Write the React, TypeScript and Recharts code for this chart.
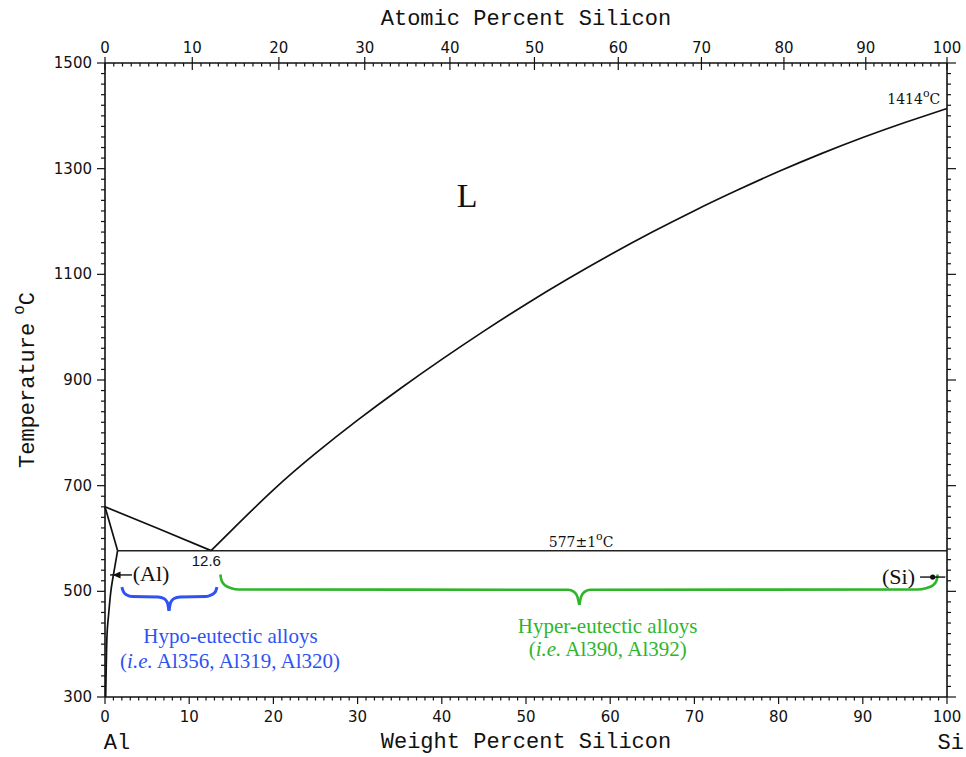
import React from "react";
import { LineChart, Line, XAxis, YAxis, Label, ReferenceDot, ReferenceLine } from "recharts";

const INK = "#111";
const BLUE = "#2f52f2";
const GREEN = "#2fb52a";

// axis ticks
const WT_MAJOR = [0, 10, 20, 30, 40, 50, 60, 70, 80, 90, 100];
const AT_MAJOR = [0, 10, 20, 30, 40, 50, 60, 70, 80, 90, 100];
const T_MAJOR = [300, 500, 700, 900, 1100, 1300, 1500];

// Al side (wt% Si, °C)
const AL_LIQ_WT = [0, 6.3, 12.6];
const AL_LIQ_T = [660, 619, 577];
const AL_SOLIDUS_WT = [0, 1.5];
const AL_SOLIDUS_T = [660, 577];
const AL_SOLVUS_WT = [1.5, 1.15, 0.71, 0.45, 0.27, 0.16, 0.08];
const AL_SOLVUS_T = [577, 545, 502, 460, 427, 370, 300];

// eutectic isotherm
const EUT_WT = [1.5, 100];
const EUT_T = [577, 577];

// Si liquidus
const SI_LIQ_WT = [12.6, 15, 20, 25, 30, 35, 40, 45, 50, 55, 60, 65, 70, 75, 80, 85, 90, 95, 100];
const SI_LIQ_T = [577, 615, 692, 761, 824, 883, 939, 992.5, 1043.5, 1091.5, 1137, 1180, 1220.5, 1258.5, 1294.5, 1328, 1359, 1387.5, 1414];

// braces
const HYPO_L_WT = [2.0, 2.2, 2.6, 3.2, 6.3, 7.0, 7.4, 7.6];
const HYPO_L_T = [508, 499, 493, 490, 489.5, 486.5, 479, 463];
const HYPO_R_WT = [7.6, 7.8, 8.2, 8.9, 12.0, 12.6, 13.1, 13.3];
const HYPO_R_T = [463, 479, 486.5, 489.5, 490, 493, 499, 508];
const HYPER_L_WT = [13.7, 13.85, 14.3, 15.0, 15.9, 55.0, 55.7, 56.1, 56.33];
const HYPER_L_T = [532, 520, 511, 506, 503.5, 503, 499, 490, 474];
const HYPER_R_WT = [56.33, 56.55, 56.95, 57.65, 96.5, 97.5, 98.3, 98.75, 98.9];
const HYPER_R_T = [474, 490, 499, 503, 503.5, 506, 511, 520, 532];

const pts = (xs: number[], ys: number[]) => xs.map((x, i) => ({ x, y: ys[i] }));

// atomic % Si -> weight % Si (Al 26.982, Si 28.086)
const atToWt = (a: number) => (100 * a * 28.086) / (a * 28.086 + (100 - a) * 26.982);

const WT_TICKS: number[] = [];
for (let i = 0; i <= 100; i++) WT_TICKS.push(i);
const AT_TICKS: number[] = [];
for (let i = 0; i <= 100; i++) AT_TICKS.push(atToWt(i));
const T_TICKS: number[] = [];
for (let t = 300; t <= 1500; t += 20) T_TICKS.push(t);

const tickFont = { fontFamily: "'DejaVu Sans', sans-serif", fontSize: 15, fill: INK };
const monoFont = { fontFamily: "'Liberation Mono', monospace", fontSize: 22, fill: INK };
const serifNote = { fontFamily: "'DejaVu Serif', serif", fontSize: 14, fill: INK };
const timesFont = { fontFamily: "'Liberation Serif', serif", fontSize: 21 };

function BottomTick(props: any) {
  const { x, y, payload } = props;
  const v = payload.value;
  const major = WT_MAJOR.includes(v);
  return (
    <g>
      <line x1={x} x2={x} y1={y} y2={y + (major ? 7 : 3.5)} stroke={INK} strokeWidth={1.2} />
      {major && (
        <text x={x} y={y + 25} textAnchor="middle" {...tickFont}>
          {v}
        </text>
      )}
    </g>
  );
}

function TopTick(props: any) {
  const { x, y, index } = props;
  const major = AT_MAJOR.includes(index);
  return (
    <g>
      <line x1={x} x2={x} y1={major ? y - 6 : y} y2={y + (major ? 7 : 3.5)} stroke={INK} strokeWidth={1.2} />
      {major && (
        <text x={x} y={y - 10} textAnchor="middle" {...tickFont}>
          {index}
        </text>
      )}
    </g>
  );
}

function LeftTick(props: any) {
  const { x, y, payload } = props;
  const v = payload.value;
  const major = T_MAJOR.includes(v);
  return (
    <g>
      <line x1={x - (major ? 8 : 4)} x2={x} y1={y} y2={y} stroke={INK} strokeWidth={1.2} />
      {major && (
        <text x={x - 13} y={y + 5} textAnchor="end" {...tickFont}>
          {v}
        </text>
      )}
    </g>
  );
}

function RightTick(props: any) {
  const { x, y, payload } = props;
  const major = T_MAJOR.includes(payload.value);
  return <line x1={x} x2={x + (major ? 9 : 4)} y1={y} y2={y} stroke={INK} strokeWidth={1.2} />;
}

function BottomTitle(props: any) {
  const vb = props.viewBox;
  const cx = vb.x + vb.width / 2;
  return (
    <g>
      <text x={cx} y={vb.y + 51} textAnchor="middle" {...monoFont}>
        Weight Percent Silicon
      </text>
      <text x={vb.x + 12} y={vb.y + 52} textAnchor="middle" {...monoFont}>
        Al
      </text>
      <text x={vb.x + vb.width + 17} y={vb.y + 52} textAnchor="end" {...monoFont}>
        Si
      </text>
    </g>
  );
}

function TopTitle(props: any) {
  const vb = props.viewBox;
  return (
    <text x={vb.x + vb.width / 2} y={25} textAnchor="middle" {...monoFont}>
      Atomic Percent Silicon
    </text>
  );
}

function LeftTitle(props: any) {
  const vb = props.viewBox;
  const cx = 34;
  const cy = vb.y + vb.height / 2;
  return (
    <text x={cx} y={cy} transform={`rotate(-90, ${cx}, ${cy})`} textAnchor="middle" {...monoFont}>
      Temperature
      <tspan dx={8} dy={-10} fontSize={16}>
        o
      </tspan>
      <tspan dy={10}>C</tspan>
    </text>
  );
}

const note = (x: number, y: number, render: (cx: number, cy: number) => React.ReactElement) => (
  <ReferenceDot x={x} y={y} r={0} isFront shape={(p: any) => render(p.cx, p.cy)} />
);

export default function App() {
  const line = (
    data: { x: number; y: number }[],
    stroke = INK,
    width = 1.7,
    type: any = "monotone",
    xId: any = 0,
    yId: any = 0
  ) => (
    <Line
      data={data}
      dataKey="y"
      xAxisId={xId}
      yAxisId={yId}
      type={type}
      stroke={stroke}
      strokeWidth={width}
      dot={false}
      activeDot={false}
      isAnimationActive={false}
    />
  );

  return (
    <div style={{ position: "absolute", left: 0, top: 0, background: "#fff" }}>
      <LineChart width={966} height={757} margin={{ top: 0, right: 0, bottom: 0, left: 0 }}>
        <XAxis
          dataKey="x"
          type="number"
          domain={[0, 100]}
          ticks={WT_TICKS}
          interval={0}
          height={60}
          tick={(p: any) => <BottomTick {...p} />}
          tickLine={false}
          tickSize={0}
          tickMargin={0}
          axisLine={{ stroke: INK, strokeWidth: 1.6 }}
        >
          <Label content={BottomTitle} />
        </XAxis>
        <XAxis
          xAxisId="top"
          dataKey="x"
          orientation="top"
          type="number"
          domain={[0, 100]}
          ticks={AT_TICKS}
          interval={0}
          height={63}
          tick={(p: any) => <TopTick {...p} />}
          tickLine={false}
          tickSize={0}
          tickMargin={0}
          axisLine={{ stroke: INK, strokeWidth: 1.6 }}
        >
          <Label content={TopTitle} />
        </XAxis>
        <YAxis
          type="number"
          domain={[300, 1500]}
          ticks={T_TICKS}
          interval={0}
          width={105}
          tick={(p: any) => <LeftTick {...p} />}
          tickLine={false}
          tickSize={0}
          tickMargin={0}
          axisLine={{ stroke: INK, strokeWidth: 1.6 }}
        >
          <Label content={LeftTitle} />
        </YAxis>
        <YAxis
          yAxisId="right"
          orientation="right"
          type="number"
          domain={[300, 1500]}
          ticks={T_TICKS}
          interval={0}
          width={19}
          tick={(p: any) => <RightTick {...p} />}
          tickLine={false}
          tickSize={0}
          tickMargin={0}
          axisLine={{ stroke: INK, strokeWidth: 1.6 }}
        />

        {line(pts(AL_LIQ_WT, AL_LIQ_T), INK, 1.7, "linear")}
        {line(pts(AL_SOLIDUS_WT, AL_SOLIDUS_T), INK, 1.7, "linear")}
        {line(pts(AL_SOLVUS_WT, AL_SOLVUS_T), INK, 1.7, "monotoneY")}
        {line(pts(EUT_WT, EUT_T), "#222", 1.5, "linear", "top", "right")}
        {line(pts(SI_LIQ_WT, SI_LIQ_T), INK, 1.7, "natural")}

        {line(pts(HYPO_L_WT, HYPO_L_T), BLUE, 3, "monotoneX")}
        {line(pts(HYPO_R_WT, HYPO_R_T), BLUE, 3, "monotoneX")}
        {line(pts(HYPER_L_WT, HYPER_L_T), GREEN, 2.6, "monotoneX")}
        {line(pts(HYPER_R_WT, HYPER_R_T), GREEN, 2.6, "monotoneX")}

        <ReferenceLine segment={[{ x: 0.6, y: 531 }, { x: 3.2, y: 531 }]} stroke={INK} strokeWidth={1.4} />
        {note(0.9, 531, (cx, cy) => (
          <polygon points={`${cx},${cy} ${cx + 8},${cy - 3.5} ${cx + 8},${cy + 3.5}`} fill={INK} />
        ))}
        <ReferenceLine segment={[{ x: 96.8, y: 527 }, { x: 99.8, y: 527 }]} stroke={INK} strokeWidth={1.4} />
        {note(98.3, 527, (cx, cy) => <circle cx={cx} cy={cy} r={2.6} fill={INK} />)}

        {note(43, 1227, (cx, cy) => (
          <text x={cx} y={cy} textAnchor="middle" fontFamily="'Liberation Serif', serif" fontSize={34} fill={INK}>
            L
          </text>
        ))}
        {note(99.2, 1422, (cx, cy) => (
          <text x={cx} y={cy} textAnchor="end" {...serifNote}>
            1414
            <tspan dy={-7} fontSize={11}>
              o
            </tspan>
            <tspan dy={7}>C</tspan>
          </text>
        ))}
        {note(52.7, 584, (cx, cy) => (
          <text x={cx} y={cy} textAnchor="start" {...serifNote}>
            577±1
            <tspan dy={-7} fontSize={11}>
              o
            </tspan>
            <tspan dy={7}>C</tspan>
          </text>
        ))}
        {note(10.3, 548, (cx, cy) => (
          <text x={cx} y={cy} textAnchor="start" fontFamily="'Liberation Sans', sans-serif" fontSize={15} fill={INK}>
            12.6
          </text>
        ))}
        {note(3.3, 520, (cx, cy) => (
          <text x={cx} y={cy} textAnchor="start" {...timesFont} fontSize={22} fill={INK}>
            (Al)
          </text>
        ))}
        {note(96.2, 514, (cx, cy) => (
          <text x={cx} y={cy} textAnchor="end" {...timesFont} fontSize={22} fill={INK}>
            (Si)
          </text>
        ))}

        {note(14.9, 402, (cx, cy) => (
          <text x={cx} y={cy} textAnchor="middle" {...timesFont} fill={BLUE}>
            Hypo-eutectic alloys
          </text>
        ))}
        {note(14.85, 355, (cx, cy) => (
          <text x={cx} y={cy} textAnchor="middle" {...timesFont} fill={BLUE}>
            (<tspan fontStyle="italic">i.e.</tspan> Al356, Al319, Al320)
          </text>
        ))}
        {note(59.7, 421, (cx, cy) => (
          <text x={cx} y={cy} textAnchor="middle" {...timesFont} fill={GREEN}>
            Hyper-eutectic alloys
          </text>
        ))}
        {note(59.7, 378, (cx, cy) => (
          <text x={cx} y={cy} textAnchor="middle" {...timesFont} fill={GREEN}>
            (<tspan fontStyle="italic">i.e.</tspan> Al390, Al392)
          </text>
        ))}
      </LineChart>
    </div>
  );
}
